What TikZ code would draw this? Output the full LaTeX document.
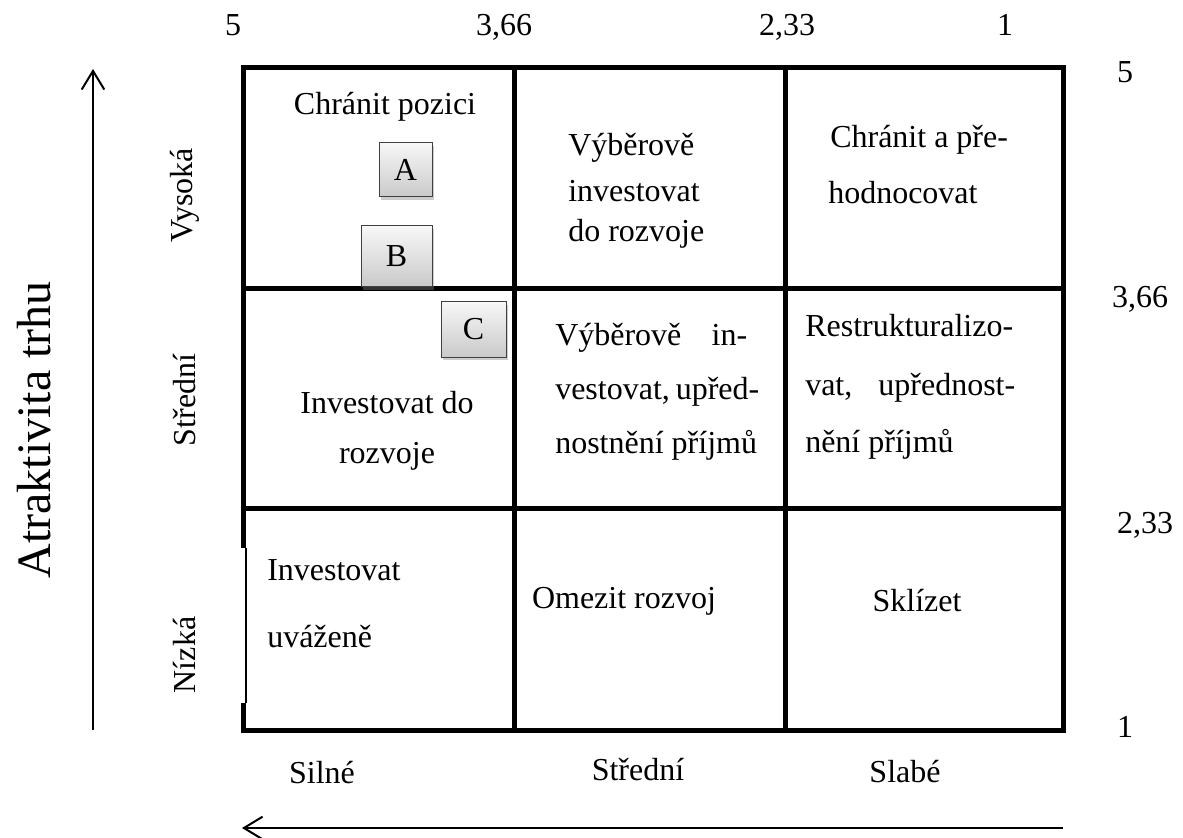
\documentclass[tikz,border=0pt]{standalone}
\usepackage{fontspec}
\setmainfont{Liberation Serif}
\usetikzlibrary{arrows.meta,shadows}
\newcommand{\bunka}[3]{\node[anchor=west] (#1) at (#2) {#3};}
\newcommand{\rozbunka}[4]{\node[anchor=west] (#1) at (#2) {\makebox[#3][s]{#4}};}
\tikzset{
  mrizka/.style={line width=3.75pt, line join=miter},
  osa/.style={line width=1.5pt, -{Straight Barb[length=14pt,width=17pt,line width=1.5pt]}},
  popis/.style={font=\fontsize{24}{29}\selectfont, inner sep=0pt},
  cislo/.style={popis, anchor=base},
  ctverec/.style={draw=black!75, line width=0.75pt, top color=gray!6, bottom color=gray!42,
    drop shadow={shadow xshift=1.2pt, shadow yshift=-2pt, opacity=0.4},
    font=\fontsize{24}{29}\selectfont, inner sep=0pt}
}

\begin{document}
\begin{tikzpicture}[x=0.75pt,y=-0.75pt]
	\useasboundingbox (0,0) rectangle (1183,838);
	
	% mrizka 3x3
	\draw[mrizka] (243,508) -- (243,68) -- (1063,68) -- (1063,730) -- (243,730) -- (243,703);
	\draw[line width=1.5pt] (246,548) -- (246,703);
	\draw[mrizka] (243,508) -- (243,548);
	\draw[mrizka] (514,68) -- (514,730);
	\draw[mrizka] (785,68) -- (785,730);
	\draw[mrizka] (243,289) -- (1063,289);
	\draw[mrizka] (243,508) -- (1063,508);
	
	% osy
	\coordinate (yd) at (93,730);
	\coordinate (yh) at (93,69);
	\coordinate (xp) at (1063,828);
	\coordinate (xl) at (242,828);
	\draw[osa] (yd) -- (yh);
	\draw[osa] (xp) -- (xl);
	
	\node[popis, rotate=90, font=\fontsize{36}{43}\selectfont] (atr) at (34,430) {Atraktivita trhu};
	
	% stupnice
	\node[cislo] (h5) at (233,36) {5};
	\node[cislo] (h366) at (504,36) {3,66};
	\node[cislo] (h233) at (787,36) {2,33};
	\node[cislo] (h1) at (1005,36) {1};
	\node[cislo] (p5) at (1125,83) {5};
	\node[cislo] (p366) at (1140,308) {3,66};
	\node[cislo] (p233) at (1145,533) {2,33};
	\node[cislo] (p1) at (1125,737) {1};
	
	\node[popis, rotate=90] (vys) at (185,195) {Vysoká};
	\node[popis, rotate=90] (str) at (185,400) {Střední};
	\node[popis, rotate=90] (niz) at (185,655) {Nízká};
	
	\node[cislo] (sil) at (322,783) {Silné};
	\node[cislo] (sst) at (638,780) {Střední};
	\node[cislo] (sla) at (905,782) {Slabé};
	
	% bunky
	\begin{scope}[popis]
	\node (c11) at (385,107) {Chránit pozici};
	\bunka{c12a}{568,148}{Výběrově}
	\bunka{c12b}{568,191}{investovat}
	\bunka{c12c}{568,234}{do rozvoje}
	\bunka{c13a}{830,140}{Chránit a pře-}
	\bunka{c13b}{828,193}{hodnocovat}
	\node (c21a) at (387,403) {Investovat do};
	\node (c21b) at (387,456) {rozvoje};
	\rozbunka{c22a}{555,338}{144pt}{Výběrově in-}
	\rozbunka{c22b}{555,392}{144pt}{vestovat, upřed-}
	\bunka{c22c}{555,445}{nostnění příjmů}
	\bunka{c23a}{805,326}{Restrukturalizo-}
	\rozbunka{c23b}{805,388}{157.5pt}{vat, upřednost-}
	\bunka{c23c}{805,444}{nění příjmů}
	\bunka{c31a}{267,570}{Investovat}
	\bunka{c31b}{267,637}{uváženě}
	\node (c32) at (624,601) {Omezit rozvoj};
	\node (c33) at (917,601) {Sklízet};
	\end{scope}
	
	% A, B, C
	\node[ctverec, minimum width=39.75pt, minimum height=40.5pt] (A) at (405.5,170) {A};
	\node[ctverec, minimum width=53.25pt, minimum height=45.75pt] (B) at (396.5,256.5) {B};
	\node[ctverec, minimum width=48.75pt, minimum height=41.25pt] (C) at (473.5,329.5) {C};
\end{tikzpicture}
\end{document}
